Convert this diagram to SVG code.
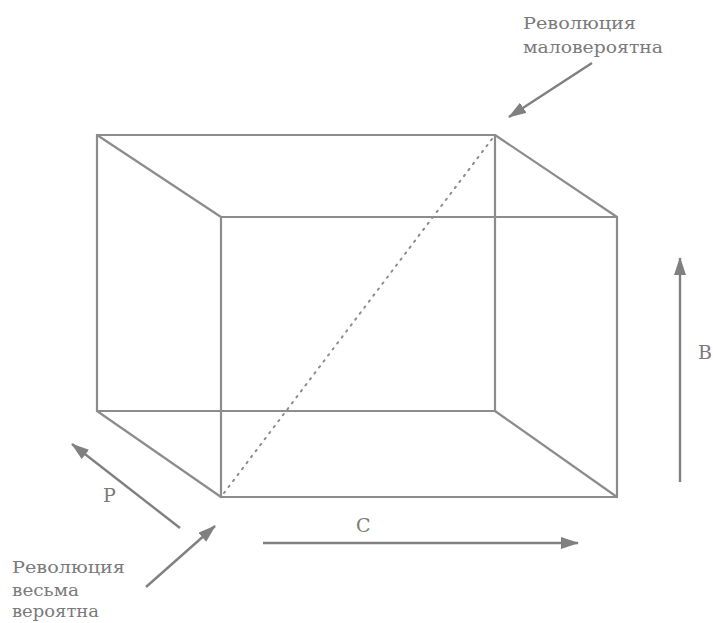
<svg xmlns="http://www.w3.org/2000/svg" width="713" height="623" viewBox="0 0 713 623">
<defs>
<marker id="ah" markerWidth="18" markerHeight="12" refX="17" refY="6" orient="auto" markerUnits="userSpaceOnUse" viewBox="0 0 18 12">
<path d="M0,0 L18,6 L0,12 Z" fill="#808080"/>
</marker>
<style>
.e{stroke:#8c8c8c;stroke-width:2.2;fill:none;stroke-linecap:round;stroke-linejoin:round}
.d{stroke:#8c8c8c;stroke-width:2;fill:none;stroke-dasharray:1.5 6;stroke-linecap:round}
.a{stroke:#808080;stroke-width:2.4;fill:none;marker-end:url(#ah)}
.t{font-family:"DejaVu Serif","Liberation Serif",serif;font-size:17px;fill:#7a7a7a}
.l{font-family:"DejaVu Serif","Liberation Serif",serif;font-size:19px;fill:#7a7a7a}
</style>
</defs>
<rect width="713" height="623" fill="#ffffff"/>
<g id="box">
<polygon class="e" points="97,135 495,135 495,411 97,411"/>
<polygon class="e" points="221,217 617,217 617,497 221,497"/>
<line class="e" x1="97" y1="135" x2="221" y2="217"/>
<line class="e" x1="495" y1="135" x2="617" y2="217"/>
<line class="e" x1="97" y1="411" x2="221" y2="497"/>
<line class="e" x1="495" y1="411" x2="617" y2="497"/>
<line class="d" x1="224" y1="493" x2="492" y2="139"/>
</g>
<g id="connectors">
<line class="a" x1="592" y1="63" x2="509" y2="117"/>
<line class="a" x1="180" y1="528" x2="72" y2="444"/>
<line class="a" x1="146" y1="587" x2="215" y2="526"/>
<line class="a" x1="263" y1="543" x2="578" y2="543"/>
<line class="a" x1="680" y1="482" x2="680" y2="258"/>
</g>
<g id="label-top">
<text class="t" x="523" y="29" textLength="113" lengthAdjust="spacingAndGlyphs">Революция</text>
<text class="t" x="523" y="53" textLength="140" lengthAdjust="spacingAndGlyphs">маловероятна</text>
</g>
<g id="label-bottom">
<text class="t" x="12" y="573" textLength="113" lengthAdjust="spacingAndGlyphs">Революция</text>
<text class="t" x="12" y="596" textLength="67" lengthAdjust="spacingAndGlyphs">весьма</text>
<text class="t" x="12" y="617" textLength="87" lengthAdjust="spacingAndGlyphs">вероятна</text>
</g>
<g id="label-P"><text class="l" x="103" y="502">P</text></g>
<g id="label-C"><text class="l" x="356" y="532">C</text></g>
<g id="label-B"><text class="l" x="698" y="359">B</text></g>
</svg>
